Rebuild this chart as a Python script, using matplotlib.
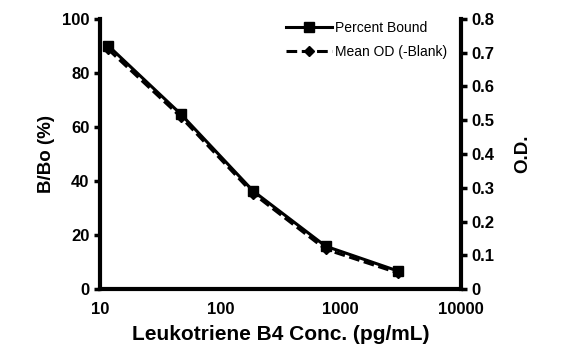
import matplotlib
matplotlib.use("Agg")
from matplotlib import pyplot as plt

plt.rcParams['font.family'] = ['Liberation Sans', 'DejaVu Sans']

# Data
conc = [11.7, 46.9, 187.5, 750, 3000]
percent_bound = [90.1, 64.8, 36.3, 15.9, 6.7]
mean_od = [0.71, 0.51, 0.283, 0.118, 0.048]

fig = plt.figure(figsize=(5.65, 3.57), dpi=100)
ax = fig.add_axes([0.177, 0.190, 0.639, 0.757])
ax2 = ax.twinx()

l1, = ax.plot(conc, percent_bound, color='black', lw=2.2, marker='s', ms=7.5,
              label='Percent Bound')
l2, = ax2.plot(conc, mean_od, color='black', lw=2.2, ls=(0, (3.5, 1.5)),
               marker='D', ms=5, label='Mean OD (-Blank)')

ax.set_xscale('log')
ax.set_xlim(10, 10000)
ax.set_ylim(0, 100)
ax2.set_ylim(0, 0.8)
ax.set_yticks([0, 20, 40, 60, 80, 100])
ax2.set_yticks([0, 0.1, 0.2, 0.3, 0.4, 0.5, 0.6, 0.7, 0.8])
ax2.set_yticklabels(['0', '0.1', '0.2', '0.3', '0.4', '0.5', '0.6', '0.7', '0.8'])
ax.set_xticks([10, 100, 1000, 10000])
ax.set_xticklabels(['10', '100', '1000', '10000'])
ax.minorticks_off()
ax.tick_params(axis='x', which='both', length=0, pad=9, labelsize=12)
ax.tick_params(axis='y', length=4, width=2.5, labelsize=12)
ax2.tick_params(axis='y', length=4, width=2.5, labelsize=12)

for lab in ax.get_xticklabels() + ax.get_yticklabels() + ax2.get_yticklabels():
    lab.set_fontweight('bold')

for a in (ax, ax2):
    a.spines['top'].set_visible(False)
    for s in ('left', 'right', 'bottom'):
        a.spines[s].set_linewidth(3)
ax.spines['right'].set_visible(False)
ax2.spines['left'].set_visible(False)
ax2.spines['bottom'].set_visible(False)

ax.set_xlabel('Leukotriene B4 Conc. (pg/mL)', fontsize=15, fontweight='bold', labelpad=6)
ax.set_ylabel('B/Bo (%)', fontsize=13.5, fontweight='bold', labelpad=5)
ax2.set_ylabel('O.D.', fontsize=13.5, fontweight='bold', labelpad=14)

ax.legend(handles=[l1, l2], loc='upper right', bbox_to_anchor=(0.995, 1.04),
          frameon=False, fontsize=10, handlelength=3.3, handletextpad=0.2,
          labelspacing=0.75)

fig.savefig('out.png', dpi=100)
